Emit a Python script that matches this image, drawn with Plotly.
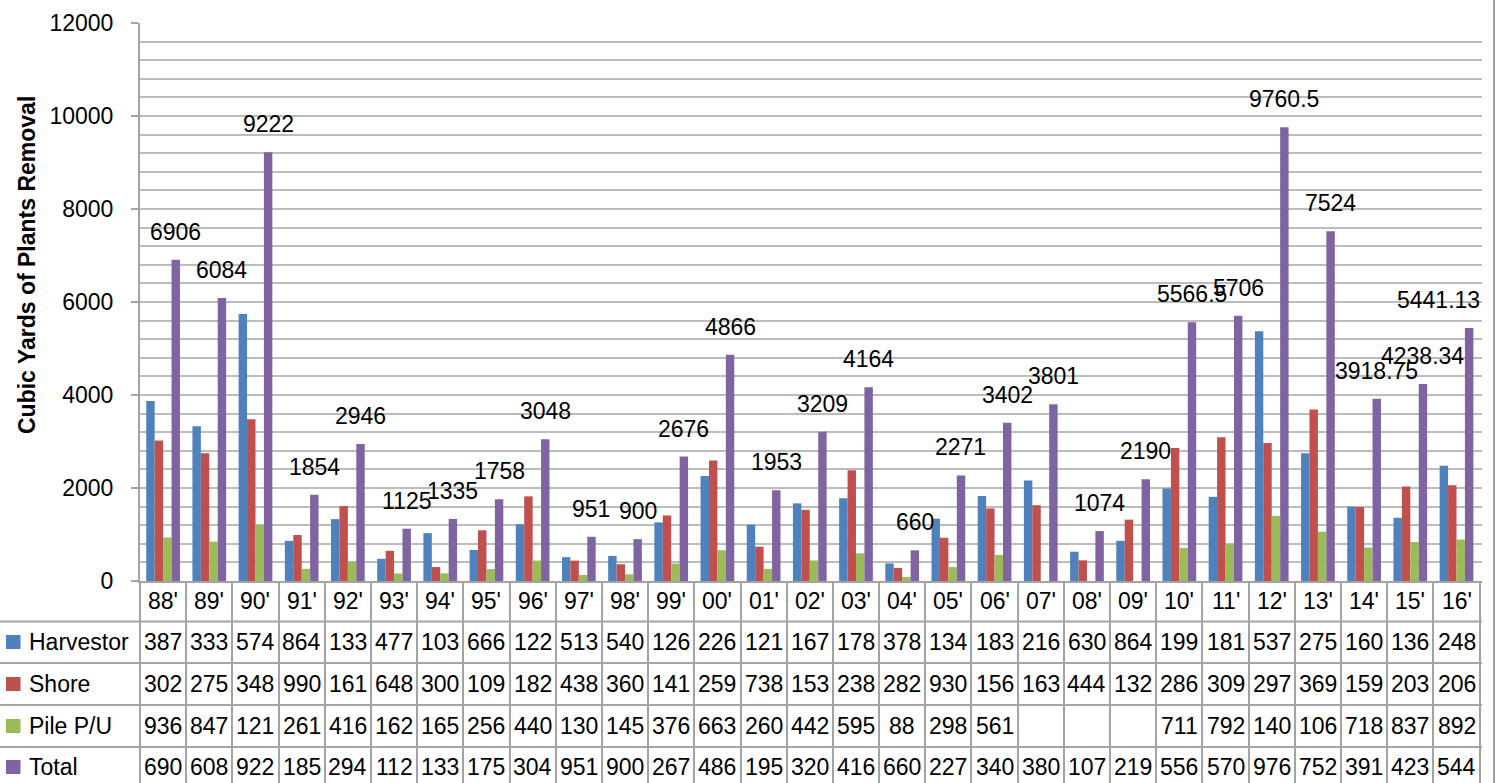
import plotly.graph_objects as go

# ---------------- data ----------------
years = ["88'", "89'", "90'", "91'", "92'", "93'", "94'", "95'", "96'", "97'",
         "98'", "99'", "00'", "01'", "02'", "03'", "04'", "05'", "06'", "07'",
         "08'", "09'", "10'", "11'", "12'", "13'", "14'", "15'", "16'"]

harvester = [3870, 3330, 5740, 864, 1330, 477, 1030, 666, 1220, 513,
             540, 1260, 2260, 1210, 1670, 1780, 378, 1340, 1830, 2160,
             630, 864, 1990, 1810, 5370, 2750, 1600, 1360, 2480]

shore = [3020, 2750, 3480, 990, 1610, 648, 300, 1090, 1820, 438,
         360, 1410, 2590, 738, 1530, 2380, 282, 930, 1560, 1630,
         444, 1320, 2860, 3090, 2970, 3690, 1590, 2030, 2060]

pile = [936, 847, 1210, 261, 416, 162, 165, 256, 440, 130,
        145, 376, 663, 260, 442, 595, 88, 298, 561, None,
        None, None, 711, 792, 1400, 1060, 718, 837, 892]

total = [6906, 6084, 9222, 1854, 2946, 1125, 1335, 1758, 3048, 951,
         900, 2676, 4866, 1953, 3209, 4164, 660, 2271, 3402, 3801,
         1074, 2190, 5566.5, 5706, 9760.5, 7524, 3918.75, 4238.34, 5441.13]

series_names = ["Harvestor", "Shore", "Pile P/U", "Total"]
series_values = [harvester, shore, pile, total]
colors = ["#4F81BD", "#C0504D", "#9BBB59", "#8064A2"]

y_title = "Cubic Yards of Plants Removal"

# ---------------- layout geometry ----------------
W, H = 1504, 783
ML, MR, MT, MB = 140, 22, 23, 202
PW, PH = W - ML - MR, H - MT - MB
FONT = "Liberation Sans"
FS = 23
GRID = "#bcbcbc"
LINE = "#a3a3a3"


def px_x(p):
    return (p - ML) / PW


def px_y(p):
    return (H - MB - p) / PH


fig = go.Figure()
for name, vals, col in zip(series_names, series_values, colors):
    fig.add_trace(go.Bar(x=years, y=vals, name=name, marker_color=col,
                         marker_line_width=0))

annotations = []
shapes = []

# Total data labels
for i, (yr, v) in enumerate(zip(years, total)):
    last = i == len(years) - 1
    annotations.append(dict(
        x=yr, y=v, xref="x", yref="y", text=f"{v:g}", showarrow=False,
        xanchor="right" if last else "center", yanchor="middle",
        xshift=25.5 if last else 12.6, yshift=28,
        font=dict(family=FONT, size=FS, color="black")))

# Data table
row_centers = [642, 684, 726, 767]
header_center = 601
for yr in years:
    annotations.append(dict(x=yr, y=px_y(header_center), xref="x", yref="paper",
                            text=yr, showarrow=False, xanchor="center", yanchor="middle",
                            font=dict(family=FONT, size=FS, color="black")))
for rc, name, vals, col in zip(row_centers, series_names, series_values, colors):
    for yr, v in zip(years, vals):
        txt = "" if v is None else str(int(v))[:3]
        if txt:
            annotations.append(dict(x=yr, y=px_y(rc), xref="x", yref="paper",
                                    text=txt, showarrow=False, xanchor="center",
                                    yanchor="middle",
                                    font=dict(family=FONT, size=FS, color="black")))
    # legend key + name
    shapes.append(dict(type="rect", xref="paper", yref="paper",
                       x0=px_x(6), x1=px_x(20.5), y0=px_y(rc - 7), y1=px_y(rc + 7),
                       fillcolor=col, line=dict(width=0)))
    annotations.append(dict(x=px_x(27), y=px_y(rc), xref="paper", yref="paper",
                            text=name, showarrow=False, xanchor="left", yanchor="middle",
                            font=dict(family=FONT, size=FS, color="black")))

# horizontal table lines
for ly in [621.5, 663, 705, 747]:
    shapes.append(dict(type="line", xref="paper", yref="paper",
                       x0=px_x(0), x1=1, y0=px_y(ly), y1=px_y(ly),
                       line=dict(color=LINE, width=2)))

# chart outer border (right)
shapes.append(dict(type="line", xref="paper", yref="paper",
                   x0=px_x(1494), x1=px_x(1494), y0=px_y(0), y1=px_y(H),
                   line=dict(color="#a0a0a0", width=2)))

# y-axis title
annotations.append(dict(x=px_x(27), y=px_y(265), xref="paper", yref="paper",
                        text=f"<b>{y_title}</b>", textangle=-90, showarrow=False,
                        xanchor="center", yanchor="middle",
                        font=dict(family=FONT, size=23, color="black")))

fig.update_layout(
    width=W, height=H,
    margin=dict(l=ML, r=MR, t=MT, b=MB, pad=0, autoexpand=False),
    paper_bgcolor="white", plot_bgcolor="white",
    barmode="group", bargap=0.27, bargroupgap=0,
    showlegend=False,
    font=dict(family=FONT, size=FS, color="black"),
    annotations=annotations, shapes=shapes,
    xaxis=dict(type="category", showgrid=False, showticklabels=False,
               ticks="outside", tickson="boundaries", ticklen=MB + 5,
               tickcolor=LINE, tickwidth=2, automargin=False,
               showline=True, linecolor=LINE, linewidth=2),
    yaxis=dict(range=[0, 12000], dtick=2000, tick0=0, tickformat="d",
               showgrid=True, automargin=False,
               gridcolor=GRID, gridwidth=2, zeroline=False,
               ticks="outside", ticklen=7, tickcolor=LINE, tickwidth=2,
               showline=True, linecolor=LINE, linewidth=2,
               ticklabelstandoff=13,
               tickfont=dict(family=FONT, size=FS, color="black"),
               minor=dict(dtick=400, showgrid=True, gridcolor=GRID,
                          gridwidth=2, ticks="")),
)

fig.write_html(
    "out.html",
    config={"displayModeBar": False},
    post_script="document.body.style.margin='0px';"
                "document.documentElement.style.overflow='hidden';",
)
